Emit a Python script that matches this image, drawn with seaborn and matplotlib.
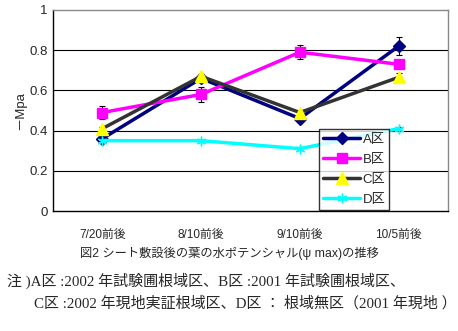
import numpy as np
import pandas as pd
import matplotlib
matplotlib.use("Agg")
import matplotlib.pyplot as plt
import seaborn as sns

categories = ["7/20前後", "8/10前後", "9/10前後", "10/5前後"]
series_names = ["A区", "B区", "C区", "D区"]
a_vals = [0.36, 0.66, 0.46, 0.82]
b_vals = [0.49, 0.58, 0.79, 0.73]
c_vals = [0.41, 0.67, 0.49, 0.665]
d_vals = [0.35, 0.35, 0.31, 0.41]
a_err = [0.01, 0.01, 0.01, 0.045]
b_err = [0.033, 0.036, 0.034, 0.02]
c_err = [0.01, 0.01, 0.01, 0.02]
d_err = [0.005, 0.008, 0.008, 0.01]
yticks = [0, 0.2, 0.4, 0.6, 0.8, 1]
ytick_labels = ["0", "0.2", "0.4", "0.6", "0.8", "1"]

sns.set_style("white")
plt.rcParams['font.family'] = ['Liberation Sans', 'Noto Sans CJK JP']

fig = plt.figure(figsize=(4.58, 3.31), dpi=100)
ax = fig.add_axes([0.1157, 0.3625, 0.8623, 0.6073])

styles = [
    dict(color="#000080", marker="D", mfc="#000080", mec="#000080", ms=6),
    dict(color="#FF00FF", marker="s", mfc="#FF00FF", mec="#FF00FF", ms=7.5),
    dict(color="#333333", marker="^", mfc="#FFFF00", mec="#FFFF00", ms=8),
    dict(color="#00FFFF", marker=(6, 2, 0), mfc="#00FFFF", mec="#00FFFF", ms=7),
]
vals = [a_vals, b_vals, c_vals, d_vals]
errs = [a_err, b_err, c_err, d_err]
x = np.arange(len(categories))

for name, v, e, st in zip(series_names, vals, errs, styles):
    df = pd.DataFrame({"x": x, "y": v})
    ax.errorbar(x, v, yerr=e, fmt="none", ecolor="black", elinewidth=0.8,
                capsize=2.5, capthick=0.8, zorder=2)
    sns.lineplot(data=df, x="x", y="y", ax=ax, color=st["color"], lw=2.5,
                 marker=st["marker"], markerfacecolor=st["mfc"],
                 markeredgecolor=st["mec"], markersize=st["ms"],
                 markeredgewidth=1, label=name, zorder=3)

ax.set_xlim(-0.5, 3.5)
ax.set_ylim(0, 1)
ax.set_yticks(yticks)
ax.set_yticklabels(ytick_labels, fontsize=9.5)
ax.set_xticks(x)
ax.set_xticklabels(categories, fontsize=8.5)
ax.set_xticks([0.5, 1.5, 2.5], minor=True)
ax.tick_params(axis="x", which="major", length=0, pad=13)
ax.tick_params(axis="x", which="minor", length=4, width=0.8, direction="out", color="black")
ax.tick_params(axis="y", length=0, pad=4)
for yv in [0.2, 0.4, 0.6, 0.8]:
    ax.axhline(yv, color="black", lw=0.8, zorder=1)
ax.set_xlabel("")
ax.set_ylabel("－Mpa", fontsize=9.5, labelpad=2)
for s in ["left", "bottom"]:
    ax.spines[s].set_color("black")
    ax.spines[s].set_linewidth(1)
for s in ["top", "right"]:
    ax.spines[s].set_color("#888888")
    ax.spines[s].set_linewidth(1)

leg = ax.legend(loc="lower right", bbox_to_anchor=(0.852, 0.005), fontsize=9.5,
                frameon=True, fancybox=False, edgecolor="black",
                handlelength=2.8, handletextpad=0.2, borderpad=0.3,
                labelspacing=0.6, borderaxespad=0)
leg.get_frame().set_linewidth(1)

fig.text(0.5, 0.235, "図2 シート敷設後の葉の水ポテンシャル(ψ max)の推移", ha="center",
         va="center", fontsize=8.8)
serif = ['Liberation Serif', 'Noto Sans CJK JP']
fig.text(0.015, 0.153, "注 )A区 :2002 年試験圃根域区、B区 :2001 年試験圃根域区、",
         ha="left", va="center", fontsize=10.8, family=serif)
fig.text(0.075, 0.083, "C区 :2002 年現地実証根域区、D区 ： 根域無区（2001 年現地 ）",
         ha="left", va="center", fontsize=10.8, family=serif)

fig.savefig("out.png", dpi=100)
